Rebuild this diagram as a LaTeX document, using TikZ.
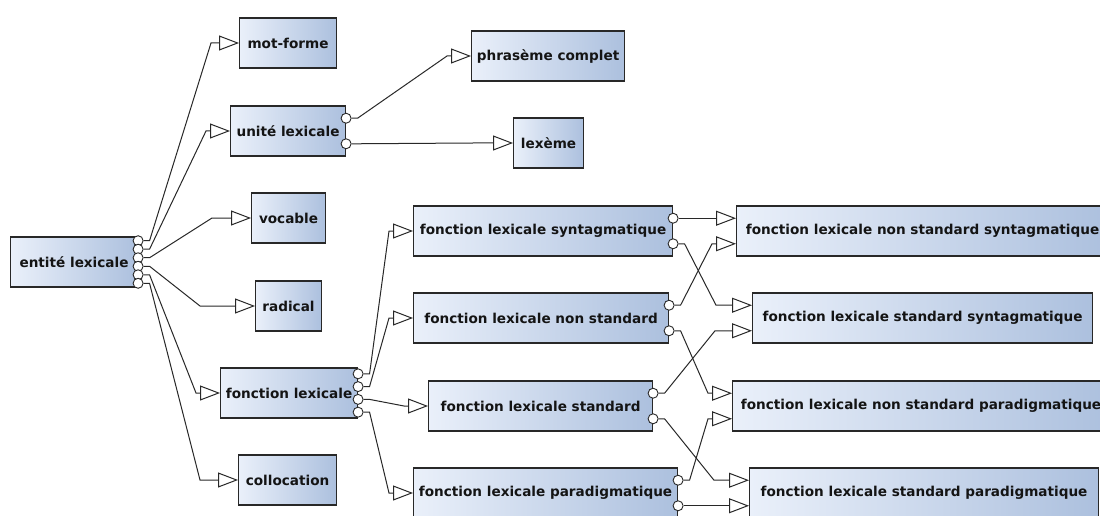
\documentclass[tikz,border=0pt]{standalone}
\usepackage{fontspec}
\setmainfont{DejaVu Sans}
\usetikzlibrary{arrows.meta,calc}
\definecolor{boxL}{RGB}{234,240,250}
\definecolor{boxR}{RGB}{172,192,222}
\definecolor{edge}{RGB}{40,40,40}
\definecolor{wire}{RGB}{40,40,40}
\definecolor{txt}{RGB}{20,20,20}
\begin{document}
\begin{tikzpicture}[x=1pt,y=-1pt,
  ebox/.style={draw=edge,line width=1.1pt,left color=boxL,right color=boxR,
    anchor=west,minimum height=50pt,inner xsep=1pt,inner ysep=0pt,
    font=\fontsize{13.6}{16}\selectfont\bfseries,text=txt},
  port/.style={circle,draw=wire,fill=white,line width=0.9pt,inner sep=0pt,minimum size=10pt},
  conn/.style={draw=wire,line width=1pt,-{Triangle[open,length=20pt,width=15pt]}}]
\clip (0,0) rectangle (1100,516);
\fill[white] (0,0) rectangle (1100,516);
% boxes
\node[ebox,minimum width=127pt] (el) at (10,262) {entité lexicale};
\node[ebox,minimum width=97pt]  (mf) at (239,43) {mot-forme};
\node[ebox,minimum width=115pt] (ul) at (230,131) {unité lexicale};
\node[ebox,minimum width=153pt] (pc) at (471,56) {phrasème complet};
\node[ebox,minimum width=70pt]  (lx) at (513,143) {lexème};
\node[ebox,minimum width=74pt]  (vo) at (251,218) {vocable};
\node[ebox,minimum width=66pt]  (ra) at (255,306) {radical};
\node[ebox,minimum width=137pt] (fl) at (220,393) {fonction lexicale};
\node[ebox,minimum width=98pt]  (co) at (238,480) {collocation};
\node[ebox,minimum width=259pt] (fls) at (413,231) {fonction lexicale syntagmatique};
\node[ebox,minimum width=255pt] (flns) at (413,318) {fonction lexicale non standard};
\node[ebox,minimum width=224pt] (flst) at (428,406) {fonction lexicale standard};
\node[ebox,minimum width=264pt] (flp) at (413,493) {fonction lexicale paradigmatique};
\node[ebox,minimum width=372pt] (nss) at (736,231) {fonction lexicale non standard syntagmatique};
\node[ebox,minimum width=340pt] (ssy) at (752,318) {fonction lexicale standard syntagmatique};
\node[ebox,minimum width=377pt] (nsp) at (732,406) {fonction lexicale non standard paradigmatique};
\node[ebox,minimum width=349pt] (spa) at (749,493) {fonction lexicale standard paradigmatique};
% ports
\foreach \k/\f in {1/0.0833,2/0.25,3/0.4167,4/0.5833,5/0.75,6/0.9167}
  \node[port] (el-p\k) at ($(el.north east)!\f!(el.south east)$) {};
\foreach \k/\f in {1/0.125,2/0.375,3/0.625,4/0.875}
  \node[port] (fl-p\k) at ($(fl.north east)!\f!(fl.south east)$) {};
\foreach \b in {ul,fls,flns,flst,flp}{
  \node[port] (\b-p1) at ($(\b.north east)!0.25!(\b.south east)$) {};
  \node[port] (\b-p2) at ($(\b.north east)!0.75!(\b.south east)$) {};
}
\foreach \b in {nss,ssy,nsp,spa}{
  \coordinate (\b-i1) at ($(\b.north west)!0.25!(\b.south west)$);
  \coordinate (\b-i2) at ($(\b.north west)!0.75!(\b.south west)$);
}
% connectors level 1
\draw[conn] (el-p1.east) -- ++(6,0) -- ([xshift=-28pt]mf.west) -- (mf.west);
\draw[conn] (el-p2.east) -- ++(6,0) -- ([xshift=-24pt]ul.west) -- (ul.west);
\draw[conn] (el-p3.east) -- ++(6,0) -- ([xshift=-39pt]vo.west) -- (vo.west);
\draw[conn] (el-p4.east) -- ++(6,0) -- ([xshift=-55pt]ra.west) -- (ra.west);
\draw[conn] (el-p5.east) -- ++(6,0) -- ([xshift=-24pt]fl.west) -- (fl.west);
\draw[conn] (el-p6.east) -- ++(6,0) -- ([xshift=-38pt]co.west) -- (co.west);
% unite lexicale
\draw[conn] (ul-p1.east) -- ++(6,0) -- ([xshift=-24pt]pc.west) -- (pc.west);
\draw[conn] (ul-p2.east) -- ++(6,0) -- ([xshift=-40pt]lx.west) -- (lx.west);
% fonction lexicale
\draw[conn] (fl-p1.east) -- ++(6,0) -- ([xshift=-24pt]fls.west) -- (fls.west);
\draw[conn] (fl-p2.east) -- ++(6,0) -- ([xshift=-24pt]flns.west) -- (flns.west);
\draw[conn] (fl-p3.east) -- ++(6,0) -- ([xshift=-24pt]flst.west) -- (flst.west);
\draw[conn] (fl-p4.east) -- ++(6,0) -- ([xshift=-24pt]flp.west) -- (flp.west);
% level 3
\draw[conn] (fls-p1.east) -- ++(6,0) -- ([xshift=-24pt]nss-i1) -- (nss-i1);
\draw[conn] (fls-p2.east) -- ++(6,0) -- ([xshift=-36pt]ssy-i1) -- (ssy-i1);
\draw[conn] (flns-p1.east) -- ++(6,0) -- ([xshift=-24pt]nss-i2) -- (nss-i2);
\draw[conn] (flns-p2.east) -- ++(6,0) -- ([xshift=-24pt]nsp-i1) -- (nsp-i1);
\draw[conn] (flst-p1.east) -- ++(6,0) -- ([xshift=-37pt]ssy-i2) -- (ssy-i2);
\draw[conn] (flst-p2.east) -- ++(6,0) -- ([xshift=-35pt]spa-i1) -- (spa-i1);
\draw[conn] (flp-p1.east) -- ++(6,0) -- ([xshift=-24pt]nsp-i2) -- (nsp-i2);
\draw[conn] (flp-p2.east) -- ++(6,0) -- ([xshift=-24pt]spa-i2) -- (spa-i2);
\end{tikzpicture}
\end{document}
